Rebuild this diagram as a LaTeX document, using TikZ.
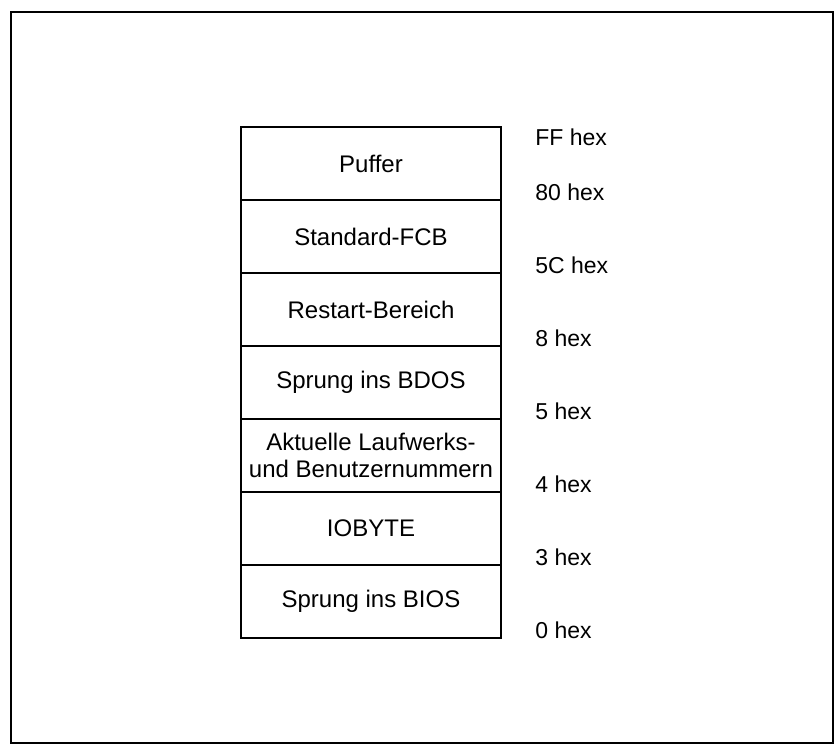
\documentclass[tikz,border=0pt]{standalone}
\usepackage{fontspec}
\setmainfont{Liberation Sans}
\usetikzlibrary{positioning}

\begin{document}
\begin{tikzpicture}[
    x=0.5pt, y=-0.5pt, node distance=0pt,
    field/.style={draw, line width=1.4pt, minimum width=130pt, minimum height=36.5pt,
        outer sep=0pt, inner sep=0pt, align=center, font=\fontsize{12}{13.5}\selectfont},
    addr/.style={anchor=west, inner sep=0pt, font=\fontsize{11.5}{13.5}\selectfont}
]
    \useasboundingbox (0,0) rectangle (836,746);
    \draw[line width=0.9pt] (11,12) rectangle (833,743);

    % memory fields, top down
    \node[field, anchor=north west] (puffer) at (241,127) {Puffer};
    \node[field, below=of puffer] (fcb) {Standard-FCB};
    \node[field, below=of fcb] (restart) {Restart-Bereich};
    \node[field, below=of restart] (bdos) {Sprung ins BDOS};
    \node[field, below=of bdos] (drive) {Aktuelle Laufwerks-\\und Benutzernummern};
    \node[field, below=of drive] (iobyte) {IOBYTE};
    \node[field, below=of iobyte] (bios) {Sprung ins BIOS};

    % addresses
    \node[addr] (hFF) at ([xshift=17pt, yshift=-5pt]puffer.north east) {FF hex};
    \node[addr] (h80) at ([xshift=17pt, yshift=4pt]puffer.south east) {80 hex};
    \node[addr] (h5C) at ([xshift=17pt, yshift=4pt]fcb.south east) {5C hex};
    \node[addr] (h8) at ([xshift=17pt, yshift=4pt]restart.south east) {8 hex};
    \node[addr] (h5) at ([xshift=17pt, yshift=4pt]bdos.south east) {5 hex};
    \node[addr] (h4) at ([xshift=17pt, yshift=4pt]drive.south east) {4 hex};
    \node[addr] (h3) at ([xshift=17pt, yshift=4pt]iobyte.south east) {3 hex};
    \node[addr] (h0) at ([xshift=17pt, yshift=4pt]bios.south east) {0 hex};
\end{tikzpicture}
\end{document}
